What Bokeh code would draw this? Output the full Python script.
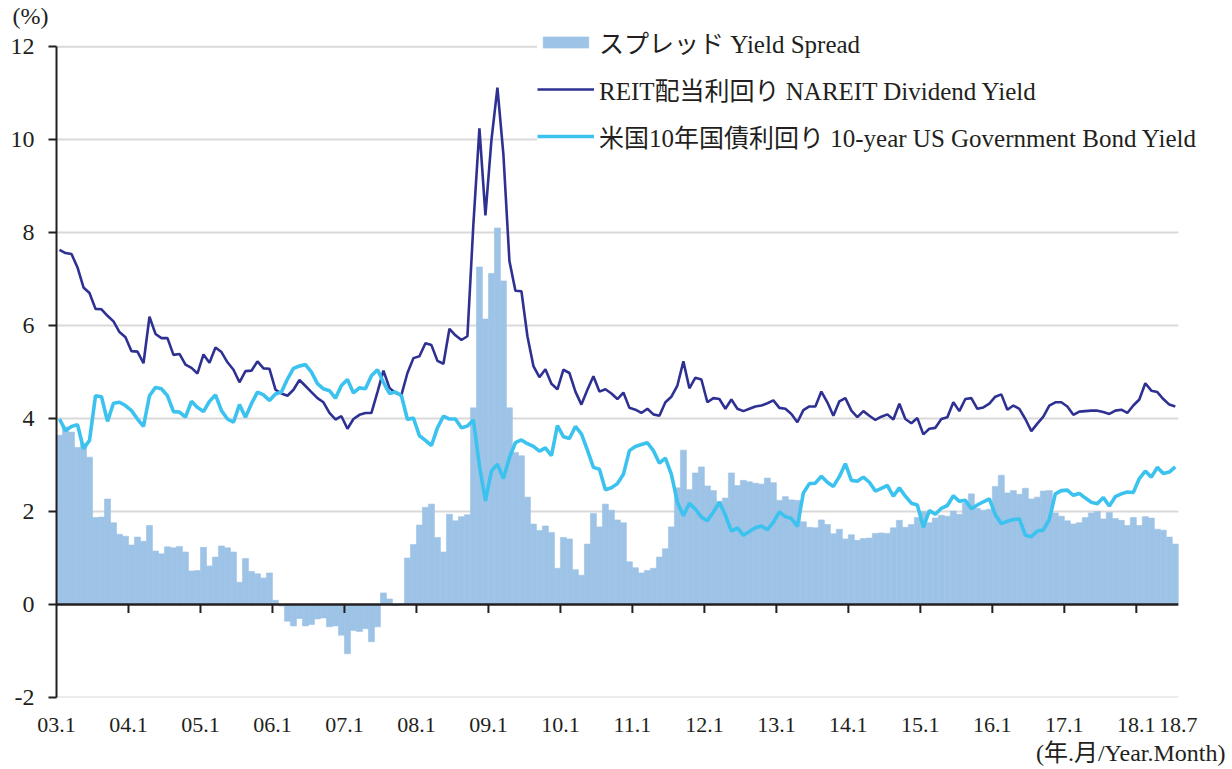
import numpy as np
from bokeh.plotting import figure
from bokeh.models import (ColumnDataSource, Range1d, FixedTicker, Legend,
                          LegendItem, Title)
from bokeh.embed import file_html
from bokeh.resources import INLINE

# ---- data (monthly, 2003.1 - 2018.7) ----
reit = [
    7.63, 7.56, 7.54, 7.25, 6.82, 6.70, 6.36, 6.35, 6.21, 6.09, 5.86, 5.75,
    5.45, 5.44, 5.19, 6.19, 5.82, 5.73, 5.73, 5.37, 5.39, 5.16, 5.09, 4.97,
    5.38, 5.20, 5.53, 5.43, 5.21, 5.05, 4.78, 5.02, 5.03, 5.23, 5.08, 5.07,
    4.62, 4.54, 4.49, 4.62, 4.83, 4.70, 4.57, 4.44, 4.35, 4.12, 3.98, 4.05,
    3.78, 3.99, 4.08, 4.12, 4.12, 4.57, 5.03, 4.66, 4.55, 4.51, 4.98, 5.30,
    5.34, 5.62, 5.58, 5.24, 5.18, 5.93, 5.79, 5.69, 5.77, 8.20, 10.24, 8.37,
    9.99, 11.12, 9.67, 7.39, 6.75, 6.74, 5.77, 5.13, 4.89, 5.06, 4.75, 4.63,
    5.05, 4.98, 4.58, 4.30, 4.62, 4.91, 4.58, 4.63, 4.54, 4.42, 4.56, 4.23,
    4.19, 4.12, 4.21, 4.09, 4.06, 4.35, 4.47, 4.71, 5.23, 4.65, 4.88, 4.84,
    4.35, 4.44, 4.42, 4.21, 4.41, 4.21, 4.16, 4.21, 4.26, 4.28, 4.33, 4.39,
    4.23, 4.21, 4.10, 3.92, 4.18, 4.26, 4.26, 4.58, 4.35, 4.06, 4.37, 4.44,
    4.17, 4.03, 4.16, 4.06, 3.97, 4.04, 4.09, 3.98, 4.32, 3.99, 3.90, 4.01,
    3.66, 3.78, 3.80, 3.99, 4.03, 4.35, 4.16, 4.42, 4.44, 4.21, 4.24, 4.32,
    4.47, 4.52, 4.19, 4.28, 4.21, 3.99, 3.73, 3.89, 4.04, 4.28, 4.35, 4.35,
    4.26, 4.08, 4.15, 4.16, 4.17, 4.17, 4.14, 4.10, 4.17, 4.19, 4.12, 4.28,
    4.41, 4.76, 4.60, 4.57, 4.42, 4.30, 4.26,
]
tsy = [
    3.99, 3.74, 3.83, 3.87, 3.35, 3.53, 4.49, 4.47, 3.94, 4.33, 4.35, 4.28,
    4.17, 3.99, 3.83, 4.49, 4.67, 4.64, 4.49, 4.15, 4.14, 4.03, 4.37, 4.24,
    4.15, 4.37, 4.51, 4.17, 3.99, 3.92, 4.30, 4.03, 4.32, 4.57, 4.51, 4.39,
    4.53, 4.57, 4.85, 5.08, 5.13, 5.16, 5.00, 4.75, 4.64, 4.60, 4.44, 4.71,
    4.84, 4.55, 4.66, 4.64, 4.92, 5.05, 4.78, 4.54, 4.57, 4.49, 3.98, 4.01,
    3.63, 3.53, 3.42, 3.80, 4.05, 3.99, 3.99, 3.80, 3.84, 3.97, 2.98, 2.23,
    2.87, 3.02, 2.71, 3.16, 3.48, 3.54, 3.46, 3.40, 3.30, 3.37, 3.20, 3.85,
    3.61, 3.57, 3.83, 3.67, 3.32, 2.95, 2.91, 2.47, 2.51, 2.60, 2.80, 3.31,
    3.40, 3.44, 3.48, 3.31, 3.04, 3.15, 2.80, 2.20, 1.91, 2.18, 2.05, 1.88,
    1.80, 1.99, 2.20, 1.92, 1.58, 1.65, 1.49, 1.57, 1.65, 1.69, 1.61, 1.77,
    1.99, 1.89, 1.85, 1.68, 2.40, 2.60, 2.61, 2.76, 2.63, 2.54, 2.75, 3.03,
    2.67, 2.65, 2.74, 2.63, 2.44, 2.50, 2.56, 2.33, 2.51, 2.33, 2.18, 2.14,
    1.66, 2.02, 1.94, 2.07, 2.13, 2.34, 2.22, 2.24, 2.06, 2.14, 2.21, 2.27,
    1.93, 1.74, 1.79, 1.83, 1.84, 1.49, 1.46, 1.58, 1.60, 1.83, 2.38, 2.45,
    2.46, 2.35, 2.39, 2.29, 2.20, 2.17, 2.30, 2.12, 2.32, 2.38, 2.42, 2.41,
    2.71, 2.87, 2.74, 2.95, 2.82, 2.85, 2.96,
]
spread = [
    3.64, 3.82, 3.71, 3.38, 3.47, 3.17, 1.87, 1.88, 2.27, 1.76, 1.51, 1.47,
    1.28, 1.45, 1.36, 1.70, 1.15, 1.09, 1.24, 1.22, 1.25, 1.13, 0.72, 0.73,
    1.23, 0.83, 1.02, 1.26, 1.22, 1.13, 0.48, 0.99, 0.71, 0.66, 0.57, 0.68,
    0.09, -0.03, -0.36, -0.46, -0.30, -0.46, -0.43, -0.31, -0.29, -0.48, -0.46, -0.66,
    -1.06, -0.56, -0.58, -0.52, -0.80, -0.48, 0.25, 0.12, -0.02, 0.02, 1.00, 1.29,
    1.71, 2.09, 2.16, 1.44, 1.13, 1.94, 1.80, 1.89, 1.93, 4.23, 7.26, 6.14,
    7.12, 8.10, 6.96, 4.23, 3.27, 3.20, 2.31, 1.73, 1.59, 1.69, 1.55, 0.78,
    1.44, 1.41, 0.75, 0.63, 1.30, 1.96, 1.67, 2.16, 2.03, 1.82, 1.76, 0.92,
    0.79, 0.68, 0.73, 0.78, 1.02, 1.20, 1.67, 2.51, 3.32, 2.47, 2.83, 2.96,
    2.55, 2.45, 2.22, 2.29, 2.83, 2.56, 2.67, 2.64, 2.61, 2.59, 2.72, 2.62,
    2.24, 2.32, 2.25, 2.24, 1.78, 1.66, 1.65, 1.82, 1.72, 1.52, 1.62, 1.41,
    1.50, 1.38, 1.42, 1.43, 1.53, 1.54, 1.53, 1.65, 1.81, 1.66, 1.72, 1.87,
    2.00, 1.76, 1.86, 1.92, 1.90, 2.01, 1.94, 2.18, 2.38, 2.07, 2.03, 2.05,
    2.54, 2.78, 2.40, 2.45, 2.37, 2.50, 2.27, 2.31, 2.44, 2.45, 1.97, 1.90,
    1.80, 1.73, 1.76, 1.87, 1.97, 2.00, 1.84, 1.98, 1.85, 1.81, 1.70, 1.87,
    1.70, 1.89, 1.86, 1.62, 1.60, 1.45, 1.30,
]
tick_labels = ["03.1", "04.1", "05.1", "06.1", "07.1", "08.1", "09.1", "10.1",
               "11.1", "12.1", "13.1", "14.1", "15.1", "16.1", "17.1", "18.1",
               "18.7"]
y_ticks = [-2, 0, 2, 4, 6, 8, 10, 12]

names = ["スプレッド Yield Spread",
         "REIT配当利回り NAREIT Dividend Yield",
         "米国10年国債利回り 10-year US Government Bond Yield"]

# ---- layout ----
n = len(reit)
assert len(tsy) == n and len(spread) == n
xc = np.arange(n) + 0.5
tick_pos = [12 * k for k in range(len(tick_labels) - 1)] + [n]
x_end = n + 8.7          # room on the right for the legend text
y_top = 12.39            # room on top for the legend's first row

FONT = "Liberation Serif, Noto Sans CJK JP"
TXT = "#231F20"

src = ColumnDataSource(dict(x=xc, reit=reit, tsy=tsy, spread=spread))

p = figure(width=1232, height=769, x_range=Range1d(0, x_end),
           y_range=Range1d(-2, y_top),
           output_backend="svg", toolbar_location=None,
           min_border_left=56, min_border_right=2, min_border_top=28,
           min_border_bottom=72)
p.outline_line_color = None
p.background_fill_color = "white"
p.xgrid.visible = False
p.ygrid.visible = False

# y axis
p.yaxis.ticker = FixedTicker(ticks=y_ticks)
p.yaxis.major_label_overrides = {v: str(v) for v in y_ticks}
p.yaxis.bounds = (min(y_ticks), max(y_ticks))
p.yaxis.axis_line_color = TXT
p.yaxis.axis_line_width = 2
p.yaxis.major_tick_line_color = TXT
p.yaxis.major_tick_line_width = 2
p.yaxis.major_tick_out = 8
p.yaxis.major_tick_in = 0
p.yaxis.minor_tick_line_color = None
p.yaxis.major_label_standoff = 14
p.yaxis.major_label_text_font = FONT
p.yaxis.major_label_text_font_size = "24px"
p.yaxis.major_label_text_color = TXT

# x axis (labels only, at the bottom)
p.xaxis.ticker = FixedTicker(ticks=tick_pos)
p.xaxis.major_label_overrides = {pos: lab for pos, lab in zip(tick_pos, tick_labels)}
p.xaxis.axis_line_color = None
p.xaxis.major_tick_line_color = None
p.xaxis.minor_tick_line_color = None
p.xaxis.major_tick_out = 0
p.xaxis.major_tick_in = 0
p.xaxis.major_label_standoff = 20
p.xaxis.major_label_text_font = FONT
p.xaxis.major_label_text_font_size = "22px"
p.xaxis.major_label_text_color = TXT

# horizontal grid lines (stop at the last month)
grid_y = [v for v in y_ticks if v != 0]
p.segment(x0=[0] * len(grid_y), x1=[n] * len(grid_y), y0=grid_y, y1=grid_y,
          line_color="#D9D9D9", line_width=2)

# glyphs
bars = p.vbar(x="x", top="spread", bottom=0, width=1.0, source=src,
              fill_color="#9DC3E6", line_color="#9DC3E6", line_width=0.6)
l_reit = p.line("x", "reit", source=src, line_color="#2E3192", line_width=2.6)
l_tsy = p.line("x", "tsy", source=src, line_color="#3CC2EE", line_width=3.6)

# zero axis line with small ticks
p.segment(x0=[0], x1=[n], y0=[0], y1=[0], line_color=TXT, line_width=2.5)
inner = tick_pos[1:-1]
p.segment(x0=inner, y0=[0] * len(inner), x1=inner, y1=[-0.18] * len(inner),
          line_color=TXT, line_width=2)

legend = Legend(items=[LegendItem(label=names[0], renderers=[bars]),
                       LegendItem(label=names[1], renderers=[l_reit]),
                       LegendItem(label=names[2], renderers=[l_tsy])],
                location=(481, 543), orientation="vertical",
                glyph_width=57, glyph_height=14, label_standoff=5,
                spacing=11, padding=4, margin=0,
                border_line_color=None, background_fill_color="white",
                background_fill_alpha=1.0,
                label_text_font=FONT, label_text_font_size="25px",
                label_text_color=TXT, label_height=20)
p.add_layout(legend)

t_unit = Title(text="(%)", align="left", offset=-44, standoff=0,
               text_font=FONT, text_font_size="24px", text_font_style="normal",
               text_color=TXT)
p.add_layout(t_unit, "above")
t_x = Title(text="(年.月/Year.Month)", align="right", offset=5, standoff=6,
            text_font=FONT, text_font_size="24px", text_font_style="normal",
            text_color=TXT)
p.add_layout(t_x, "below")

open("out.html", "w").write(file_html(p, INLINE))
